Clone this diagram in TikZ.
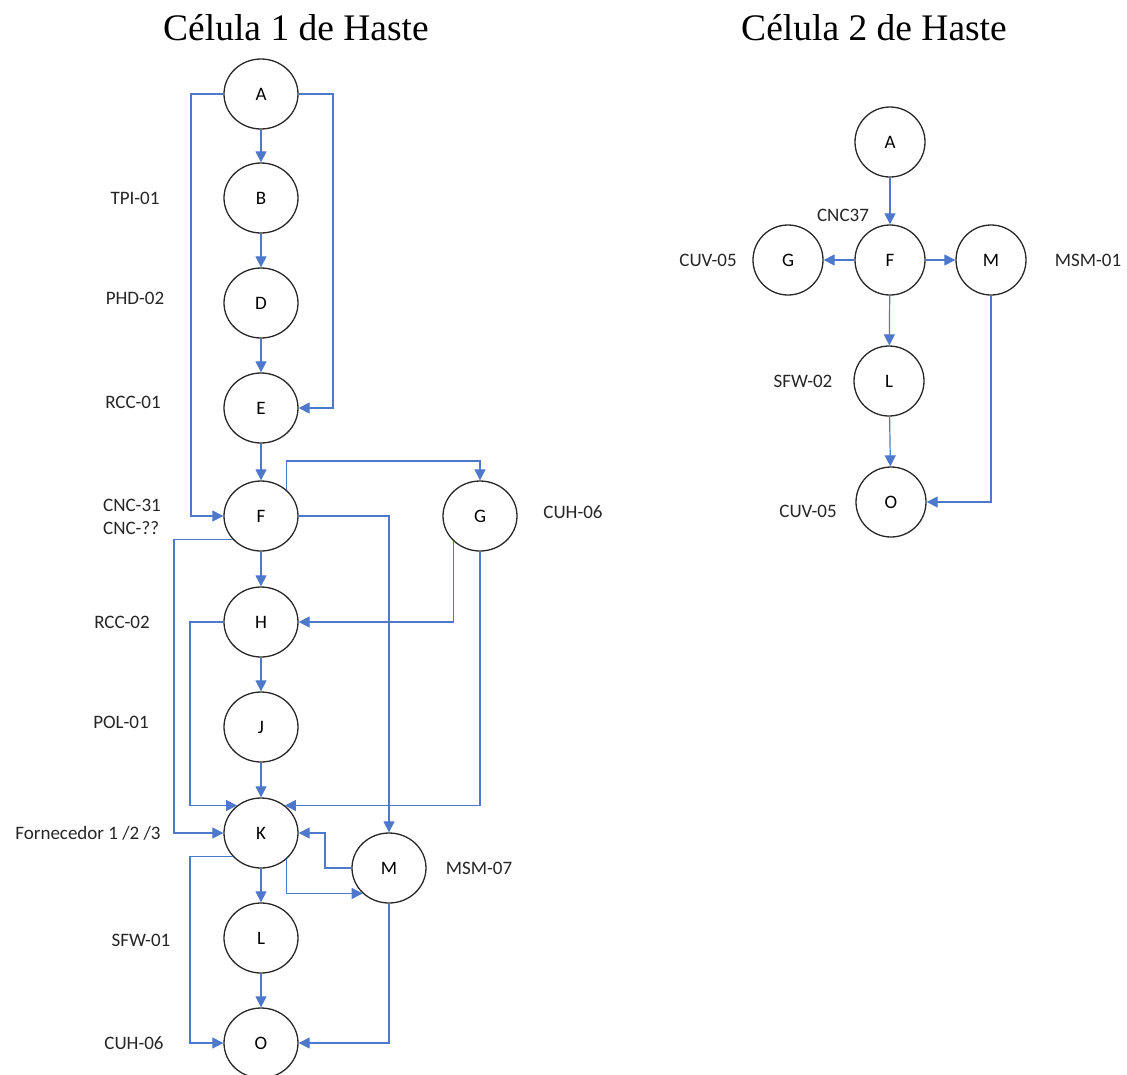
\documentclass[tikz,border=0pt]{standalone}
\usepackage{fontspec}
\setmainfont{Carlito}
\newfontfamily\titlefont{Liberation Serif}
\usetikzlibrary{arrows.meta,shapes.geometric}
\definecolor{linkblue}{RGB}{78,120,204}
\definecolor{ringgray}{RGB}{40,40,40}
\begin{document}
\begin{tikzpicture}[x=1pt,y=-1pt,
  st/.style={ellipse,draw=ringgray,line width=1.3pt,minimum width=74pt,minimum height=70pt,inner sep=0pt,font=\fontsize{19}{22}\selectfont},
  rst/.style={st,minimum width=70pt,minimum height=70pt},
  lbl/.style={font=\fontsize{19}{23}\selectfont,text=black!85,inner sep=0pt},
  ttl/.style={font=\titlefont\fontsize{37.5}{40}\selectfont,inner sep=0pt},
  conn/.style={draw=linkblue,line width=1.2pt,-{Triangle[length=11pt,width=11pt]}}
]
\useasboundingbox[fill=white] (0,0) rectangle (1127,1074);

% titles
\node[ttl] (t1) at (296,28) {Célula 1 de Haste};
\node[ttl] (t2) at (874,28) {Célula 2 de Haste};

% ---------- Cell 1 ----------
\node[st] (A) at (261,94) {A};
\node[st] (B) at (261,198) {B};
\node[st] (D) at (261,303) {D};
\node[st] (E) at (261,408) {E};
\node[st] (F) at (261,516) {F};
\node[st] (G) at (480,516) {G};
\node[st] (H) at (261,622) {H};
\node[st] (J) at (261,727) {J};
\node[st] (K) at (261,833) {K};
\node[st] (M) at (389,868) {M};
\node[st] (L) at (261,938) {L};
\node[st] (O) at (261,1043) {O};

\node[lbl] (lB) at (135,198) {TPI-01};
\node[lbl] (lD) at (135,298) {PHD-02};
\node[lbl] (lE) at (133,402) {RCC-01};
\node[lbl,anchor=west,align=left] (lF) at (103,516.5) {CNC-31\\CNC-??};
\node[lbl] (lH) at (122,622) {RCC-02};
\node[lbl] (lJ) at (121,722) {POL-01};
\node[lbl] (lK) at (88,833) {Fornecedor 1 /2 /3};
\node[lbl] (lL) at (141,940) {SFW-01};
\node[lbl] (lO) at (134,1043) {CUH-06};
\node[lbl] (lG) at (573,512) {CUH-06};
\node[lbl] (lM) at (479,868) {MSM-07};

% routing coordinates
\coordinate (xAF) at (191,0);
\coordinate (xAE) at (333,0);
\coordinate (yFG) at (0,461);
\coordinate (xFK) at (174,0);
\coordinate (xHK) at (190,0);
\coordinate (xKO) at (190,0);
\coordinate (xMK) at (325,0);

% straight chain
\draw[conn] (A) -- (B);
\draw[conn] (B) -- (D);
\draw[conn] (D) -- (E);
\draw[conn] (E) -- (F);
\draw[conn] (F) -- (H);
\draw[conn] (H) -- (J);
\draw[conn] (J) -- (K);
\draw[conn] (K) -- (L);
\draw[conn] (L) -- (O);

% routed connectors
\draw[conn] (A.west) -- (A.west -| xAF) |- (F.west);
\draw[conn] (A.east) -- (A.east -| xAE) |- (E.east);
\draw[conn] (F.46) -- (F.46 |- yFG) -| (G.north);
\draw[conn] (F.east) -| (M.north);
\draw[conn] (F.220) -- (F.220 -| xFK) |- (K.west);
\draw[conn] (G.224) |- (H.east);
\draw[conn] (G.south) |- (K.49);
\draw[conn] (H.west) -- (H.west -| xHK) |- (K.131);
\draw[conn] (K.220) -- (K.220 -| xKO) |- (O.west);
\draw[conn] (K.314) |- (M.224);
\draw[conn] (M.west) -- (M.west -| xMK) |- (K.east);
\draw[conn] (M.south) |- (O.east);

% ---------- Cell 2 ----------
\node[rst] (rA) at (890,142) {A};
\node[rst] (rF) at (890,260) {F};
\node[rst] (rG) at (788,260) {G};
\node[rst] (rM) at (991,260) {M};
\node[rst] (rL) at (889,381) {L};
\node[rst] (rO) at (891,502) {O};

\node[lbl] (lrF) at (843,215) {CNC37};
\node[lbl] (lrG) at (708,260) {CUV-05};
\node[lbl] (lrM) at (1088,260) {MSM-01};
\node[lbl] (lrL) at (803,381) {SFW-02};
\node[lbl] (lrO) at (808,511) {CUV-05};

\draw[conn] (rA) -- (rF);
\draw[conn] (rF) -- (rG);
\draw[conn] (rF) -- (rM);
\draw[conn] (rF) -- (rL);
\draw[conn] (rL) -- (rO);
\draw[conn] (rM.south) |- (rO.east);
\end{tikzpicture}
\end{document}
